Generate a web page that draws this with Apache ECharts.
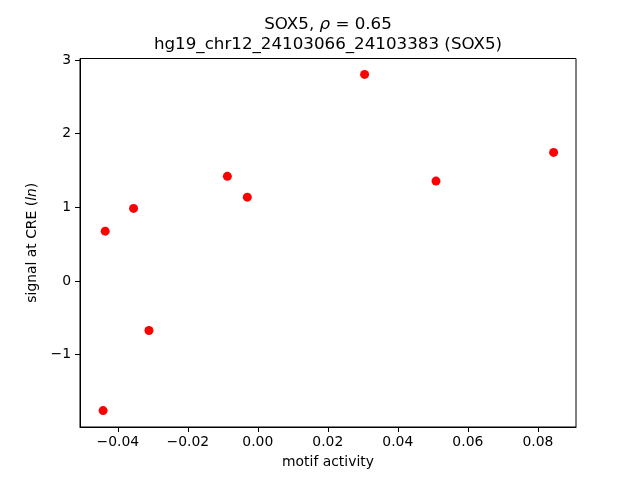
<!DOCTYPE html>
<html>
<head>
<meta charset="utf-8">
<script src="https://cdn.jsdelivr.net/npm/echarts@6/dist/echarts.min.js"></script>
<style>html,body{margin:0;padding:0;background:#fff}#c{width:640px;height:480px}</style>
</head>
<body>
<div id="c"></div>
<script>
const motifActivity = [-0.0436, -0.0355, -0.0087, -0.0030, -0.0311, -0.0442, 0.0305, 0.0509, 0.0845];
const creSignal = [0.675, 0.984, 1.420, 1.137, -0.674, -1.761, 2.804, 1.355, 1.745];
const xTicks = [-0.04, -0.02, 0.00, 0.02, 0.04, 0.06, 0.08];
const yTicks = [-1, 0, 1, 2, 3];
const xRange = [-0.0508, 0.0909];
const yRange = [-1.984, 3.02];

const font = 'DejaVu Sans';
const minus = s => s.replace('-', '\u2212');
const points = motifActivity.map((x, i) => [x, creSignal[i]]);

const chart = echarts.init(document.getElementById('c'), null, {renderer: 'canvas'});
chart.setOption({
  animation: false,
  backgroundColor: '#fff',
  title: {
    left: 328, top: 15, textAlign: 'center', padding: 0,
    text: '{a|SOX5, }{i|ρ}{a| = 0.65}\n{a|hg19_chr12_24103066_24103383 (SOX5)}',
    textStyle: {
      fontFamily: font, fontSize: 16.7, color: '#000', lineHeight: 20, fontWeight: 'normal',
      rich: {
        a: {fontFamily: font, fontSize: 16.7, color: '#000', lineHeight: 20},
        i: {fontFamily: font, fontSize: 16.7, color: '#000', lineHeight: 20, fontStyle: 'italic'}
      }
    }
  },
  grid: {left: 80, right: 64, top: 58.5, bottom: 53, show: true, borderColor: '#000', borderWidth: 1, backgroundColor: 'transparent'},
  xAxis: {
    type: 'value', min: xRange[0], max: xRange[1],
    name: 'motif activity', nameLocation: 'middle', nameGap: 28,
    nameTextStyle: {fontFamily: font, fontSize: 13.9, color: '#000'},
    axisLine: {show: true, onZero: false, lineStyle: {color: '#000', width: 1}},
    axisTick: {show: true, length: 5, inside: false, lineStyle: {color: '#000', width: 1}, customValues: xTicks},
    axisLabel: {fontFamily: font, fontSize: 13.9, color: '#000', margin: 8, customValues: xTicks,
      formatter: v => minus(v.toFixed(2))},
    splitLine: {show: false}
  },
  yAxis: {
    type: 'value', min: yRange[0], max: yRange[1],
    name: 'signal at CRE ({i|ln})', nameLocation: 'middle', nameGap: 39,
    nameTextStyle: {fontFamily: font, fontSize: 13.9, color: '#000',
      rich: {i: {fontFamily: font, fontSize: 13.9, color: '#000', fontStyle: 'italic'}}},
    axisLine: {show: true, onZero: false, lineStyle: {color: '#000', width: 1}},
    axisTick: {show: true, length: 5, inside: false, lineStyle: {color: '#000', width: 1}, customValues: yTicks},
    axisLabel: {fontFamily: font, fontSize: 13.9, color: '#000', margin: 9, customValues: yTicks,
      formatter: v => minus(String(Math.round(v)))},
    splitLine: {show: false}
  },
  series: [{
    type: 'scatter', data: points, symbol: 'circle', symbolSize: 9,
    itemStyle: {color: '#ff0000', opacity: 1}
  }]
});
</script>
</body>
</html>
